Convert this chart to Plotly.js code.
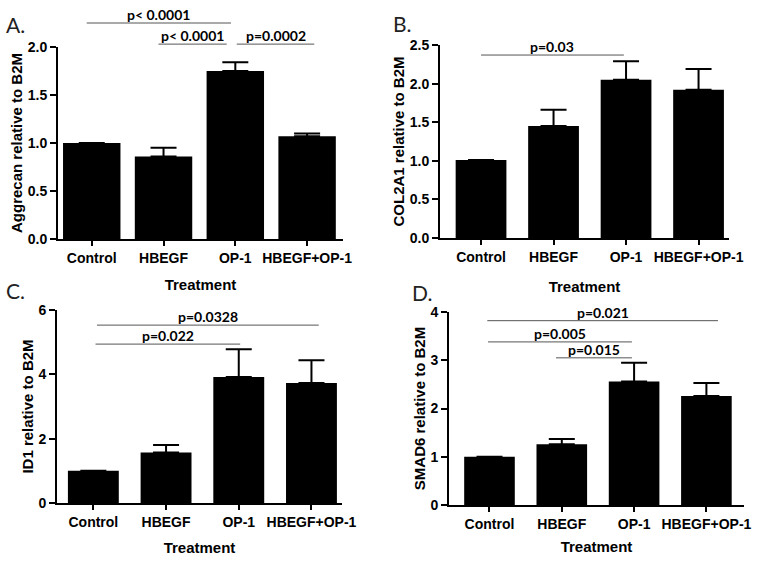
<!DOCTYPE html>
<html>
<head>
<meta charset="utf-8">
<script src="https://cdn.plot.ly/plotly-3.0.1.min.js"></script>
<style>html,body{margin:0;padding:0;background:#fff}#chart{width:764px;height:565px}</style>
</head>
<body>
<div id="chart"></div>
<script>
// ---- data ----
const categories = ['Control', 'HBEGF', 'OP-1', 'HBEGF+OP-1'];

const aggrecanMean = [1.0, 0.86, 1.75, 1.07];
const aggrecanErr  = [0, 0.09, 0.09, 0.03];

const col2a1Mean = [1.01, 1.45, 2.05, 1.92];
const col2a1Err  = [0, 0.21, 0.24, 0.27];

const id1Mean = [1.0, 1.57, 3.92, 3.73];
const id1Err  = [0, 0.23, 0.86, 0.71];

const smad6Mean = [1.0, 1.26, 2.56, 2.26];
const smad6Err  = [0, 0.11, 0.39, 0.27];

const yTitles = ['Aggrecan relative to B2M', 'COL2A1 relative to B2M', 'ID1 relative to B2M', 'SMAD6 relative to B2M'];
const panelLabels = ['A.', 'B.', 'C.', 'D.'];
const xTitle = 'Treatment';

// significance brackets: label, from/to category index, height in data units
const sigA = [
  {label: 'p< 0.0001', from: -0.07, to: 1.94, y: 2.25},
  {label: 'p< 0.0001', from: 0.93, to: 1.88, y: 2.03},
  {label: 'p=0.0002', from: 2.02, to: 3.10, y: 2.03}
];
const sigB = [
  {label: 'p=0.03', from: 0.0, to: 1.97, y: 2.37}
];
const sigC = [
  {label: 'p=0.0328', from: 0.05, to: 3.10, y: 5.53},
  {label: 'p=0.022', from: 0.03, to: 2.02, y: 4.94}
];
const sigD = [
  {label: 'p=0.021', from: -0.03, to: 3.16, y: 3.82},
  {label: 'p=0.005', from: -0.02, to: 1.97, y: 3.38},
  {label: 'p=0.015', from: 0.92, to: 1.97, y: 3.05}
];

// ---- layout config ----
const W = 764, H = 565;
function dx(a, b) { return [a / W, b / W]; }
function dy(top, bottom) { return [1 - bottom / H, 1 - top / H]; }

const panels = [
  {mean: aggrecanMean, err: aggrecanErr, sig: sigA, ymax: 2.0, dtick: 0.5, fmt: '.1f',
   xd: dx(58, 343), yd: dy(47, 239), xr: [-0.47, 3.5], bw: 0.8, lbl: [15, 25], xs: 15},
  {mean: col2a1Mean, err: col2a1Err, sig: sigB, ymax: 2.5, dtick: 0.5, fmt: '.1f',
   xd: dx(440, 729), yd: dy(45, 238), xr: [-0.566, 3.42], bw: 0.7, lbl: [402, 23], xs: 18},
  {mean: id1Mean, err: id1Err, sig: sigC, ymax: 6, dtick: 2, fmt: 'd',
   xd: dx(57, 342), yd: dy(310, 503), xr: [-0.5, 3.42], bw: 0.7, lbl: [15, 290], xs: 14},
  {mean: smad6Mean, err: smad6Err, sig: sigD, ymax: 4, dtick: 1, fmt: 'd',
   xd: dx(449, 744), yd: dy(312, 505), xr: [-0.56, 3.52], bw: 0.7, lbl: [422, 292], xs: 11}
];

const axisFont = {family: 'Liberation Sans, Arial, sans-serif', size: 14, color: '#000', weight: 'bold'};
const titleFont = {family: 'Liberation Sans, Arial, sans-serif', size: 15, color: '#000', weight: 'bold'};
const sigFont = {family: 'Lato, Carlito, sans-serif', size: 14, color: '#000', weight: 'bold'};

const traces = [];
const layout = {
  width: W, height: H,
  margin: {l: 0, r: 0, t: 0, b: 0},
  paper_bgcolor: '#fff', plot_bgcolor: '#fff',
  showlegend: false,
  shapes: [], annotations: []
};

panels.forEach((p, i) => {
  const n = i === 0 ? '' : String(i + 1);
  const xa = 'x' + n, ya = 'y' + n;
  traces.push({
    type: 'bar', x: categories, y: p.mean, xaxis: xa, yaxis: ya,
    width: p.bw,
    marker: {color: '#000', line: {width: 0}},
    error_y: {type: 'data', symmetric: false, array: p.err, arrayminus: p.err.map(() => 0),
              color: '#000', thickness: 2, width: 13},
    hoverinfo: 'none'
  });
  layout['xaxis' + n] = {
    domain: p.xd, anchor: ya, type: 'category', range: p.xr,
    showline: true, linecolor: '#000', linewidth: 2,
    ticks: 'outside', ticklen: 5, tickwidth: 2, tickcolor: '#000',
    showgrid: false, zeroline: false, tickfont: axisFont, fixedrange: true,
    title: {text: xTitle, font: titleFont, standoff: p.xs}
  };
  layout['yaxis' + n] = {
    domain: p.yd, anchor: xa, range: [0, p.ymax], dtick: p.dtick, tick0: 0, tickformat: p.fmt,
    showline: true, linecolor: '#000', linewidth: 2,
    ticks: 'outside', ticklen: 6, tickwidth: 2, tickcolor: '#000',
    showgrid: false, zeroline: false, tickfont: axisFont, fixedrange: true,
    title: {text: yTitles[i], font: titleFont, standoff: 1}
  };
  p.sig.forEach(s => {
    const yd = s.y / p.ymax;
    layout.shapes.push({type: 'line', xref: xa, yref: ya + ' domain', x0: s.from, x1: s.to, y0: yd, y1: yd,
                        line: {color: '#555', width: 1}});
    layout.annotations.push({xref: xa, yref: ya + ' domain', x: (s.from + s.to) / 2, y: yd,
                             text: s.label, showarrow: false, xanchor: 'center', yanchor: 'bottom',
                             yshift: -2, font: sigFont});
  });
  layout.annotations.push({xref: 'paper', yref: 'paper', x: p.lbl[0] / W, y: 1 - p.lbl[1] / H,
                           text: panelLabels[i], showarrow: false, xanchor: 'center', yanchor: 'middle',
                           font: {family: 'Lato, Carlito, sans-serif', size: 21, color: '#222'}});
});

Plotly.newPlot('chart', traces, layout, {staticPlot: true, displayModeBar: false});
</script>
</body>
</html>
